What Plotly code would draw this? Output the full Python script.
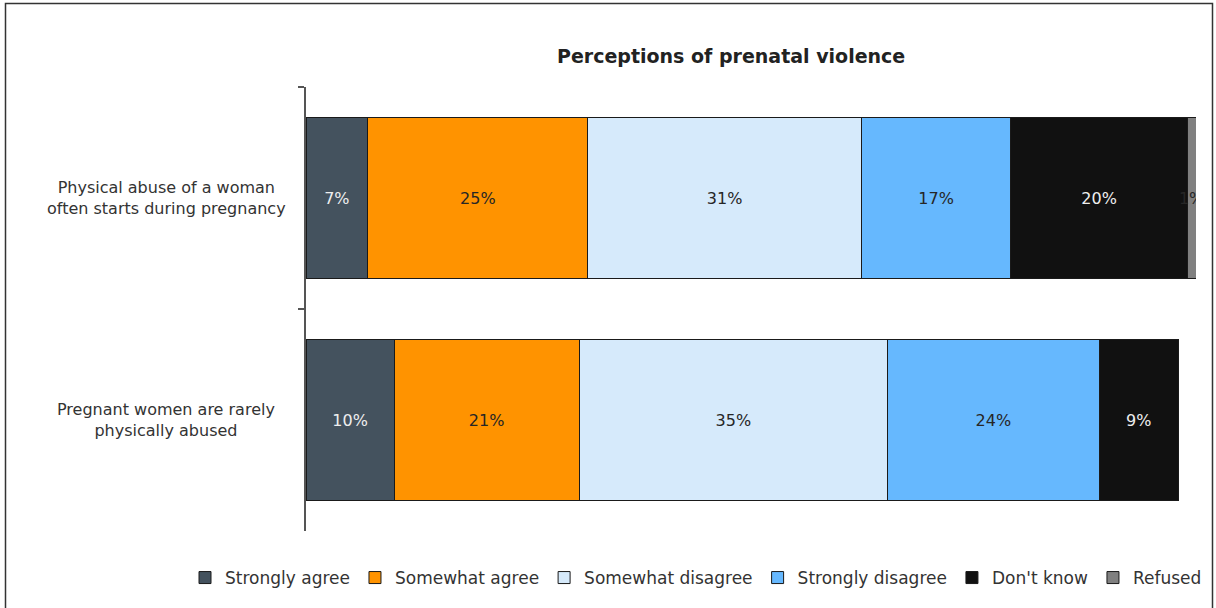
import plotly.graph_objects as go

categories = ["Physical abuse of a woman<br>often starts during pregnancy",
              "Pregnant women are rarely<br>physically abused"]
series_names = ["Strongly agree", "Somewhat agree", "Somewhat disagree",
                "Strongly disagree", "Don't know", "Refused"]
strongly_agree = [7, 10]
somewhat_agree = [25, 21]
somewhat_disagree = [31, 35]
strongly_disagree = [17, 24]
dont_know = [20, 9]
refused = [1, 0]

series_values = [strongly_agree, somewhat_agree, somewhat_disagree,
                 strongly_disagree, dont_know, refused]
colors = ["#44525E", "#FF9300", "#D6EAFB", "#66B8FE", "#111111", "#808080"]
text_colors = ["#EEEEEE", "#262626", "#262626", "#262626", "#EEEEEE", "#262626"]

FONT = "DejaVu Sans, Verdana, sans-serif"

fig = go.Figure()
for name, vals, col, tc in zip(series_names, series_values, colors, text_colors):
    fig.add_trace(go.Bar(
        y=categories, x=vals, name=name, orientation="h",
        marker=dict(color=col, line=dict(color="#1a1a1a", width=1)),
        text=[f"{v}%" if v else "" for v in vals],
        textposition="inside", insidetextanchor="middle", textangle=0,
        textfont=dict(family=FONT, size=16, color=tc),
        hoverinfo="x+name",
    ))

L, R, T, B = 306, 20, 87, 77
W, H = 1216, 608
pw = W - L - R
ph = H - T - B

def px_x(p):
    return (p - L) / pw

def px_y(p):
    return (H - B - p) / ph

annotations = [
    dict(text="<b>Perceptions of prenatal violence</b>", x=px_x(731), y=px_y(56),
         xref="paper", yref="paper", xanchor="center", yanchor="middle",
         showarrow=False, font=dict(family=FONT, size=19, color="#222222")),
]
for c in categories:
    annotations.append(dict(text=c, x=px_x(166), y=c, xref="paper", yref="y",
                            xanchor="center", yanchor="middle", align="center",
                            showarrow=False,
                            font=dict(family=FONT, size=16, color="#333333")))

fig.update_layout(
    barmode="stack",
    width=W, height=H,
    margin=dict(l=L, r=R, t=T, b=B, autoexpand=False),
    paper_bgcolor="white", plot_bgcolor="white",
    bargap=0.275,
    uniformtext=dict(minsize=16, mode="show"),
    font=dict(family=FONT, size=16, color="#333333"),
    showlegend=True,
    legend=dict(orientation="h", xref="paper", yref="paper",
                x=px_x(185), xanchor="left",
                y=px_y(578), yanchor="middle", traceorder="normal",
                itemwidth=30, font=dict(family=FONT, size=17, color="#333333")),
    annotations=annotations,
    shapes=[dict(type="rect", xref="paper", yref="paper",
                 x0=px_x(5.5), x1=px_x(1212.5), y0=px_y(620), y1=px_y(3.5),
                 line=dict(color="#333333", width=1.5), layer="below")],
)
fig.update_xaxes(range=[0, 101], visible=False, showgrid=False, zeroline=False)
fig.update_yaxes(autorange="reversed", showticklabels=False, showgrid=False,
                 showline=True, linecolor="#555555", linewidth=1.5,
                 ticks="outside", tickson="boundaries", ticklen=6,
                 tickcolor="#555555", tickwidth=1.5)

fig.write_html("out.html", config={"displayModeBar": False},
               post_script="document.body.style.margin='0px';document.body.style.overflow='hidden';")
